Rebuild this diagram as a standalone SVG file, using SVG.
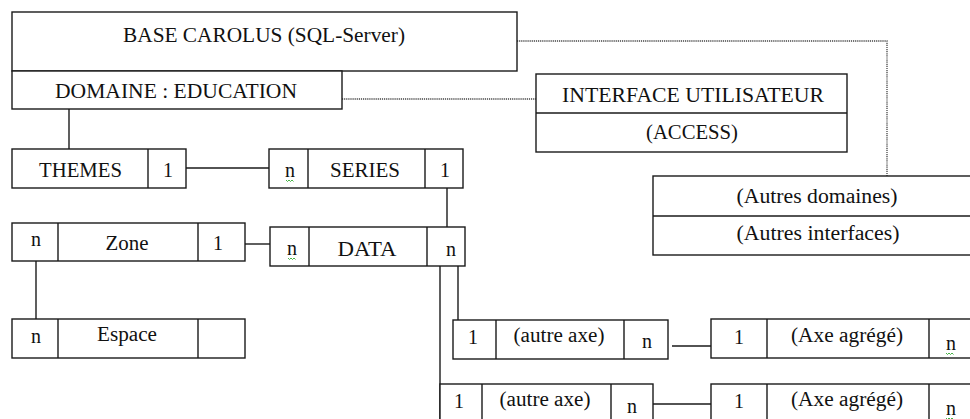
<svg xmlns="http://www.w3.org/2000/svg" width="970" height="419" viewBox="0 0 970 419">
<style>
.b{fill:#fff;stroke:#1a1a1a;stroke-width:1.4}
.d{stroke:#1a1a1a;stroke-width:1.4;fill:none}
.c{stroke:#1a1a1a;stroke-width:1.4;fill:none}
.dot{stroke:#444;stroke-width:1.3;stroke-dasharray:1.2 0.9;fill:none}
.sq{stroke:#3a3;stroke-width:0.9;fill:none}
text{font-family:"Liberation Serif","Times New Roman",serif;font-size:20px;fill:#111;text-anchor:middle}
</style>
<rect width="970" height="419" fill="#fff"/>
<g id="connectors">
<path class="dot" d="M517 41H887V176"/>
<path class="dot" d="M342 99H536"/>
<path class="c" d="M69 109V149"/>
<path class="c" d="M186 168H269"/>
<path class="c" d="M447 188V227"/>
<path class="c" d="M245 244H270"/>
<path class="c" d="M36 261V319"/>
<path class="c" d="M458 266V320"/>
<path class="c" d="M440 266V419"/>
<path class="c" d="M672 346H711"/>
<path class="c" d="M653 404H711"/>
</g>
<g id="base">
<rect class="b" x="12" y="12" width="505" height="59"/>
<text x="264" y="42" textLength="282" lengthAdjust="spacingAndGlyphs">BASE CAROLUS (SQL-Server)</text>
</g>
<g id="domaine">
<rect class="b" x="12" y="71" width="330" height="38"/>
<text x="176" y="98" textLength="242" lengthAdjust="spacingAndGlyphs">DOMAINE : EDUCATION</text>
</g>
<g id="interface">
<rect class="b" x="536" y="74" width="311" height="78"/>
<path class="d" d="M536 113H847"/>
<text x="693" y="102" textLength="262" lengthAdjust="spacingAndGlyphs">INTERFACE UTILISATEUR</text>
<text x="692" y="139" textLength="92" lengthAdjust="spacingAndGlyphs">(ACCESS)</text>
</g>
<g id="autres">
<rect class="b" x="653" y="176" width="330" height="79"/>
<path class="d" d="M653 216H983"/>
<text x="817" y="203" textLength="161" lengthAdjust="spacingAndGlyphs">(Autres domaines)</text>
<text x="818" y="240" textLength="163" lengthAdjust="spacingAndGlyphs">(Autres interfaces)</text>
</g>
<g id="themes">
<rect class="b" x="12" y="149" width="174" height="39"/>
<path class="d" d="M148 149V188"/>
<text x="80.5" y="177" textLength="83" lengthAdjust="spacingAndGlyphs">THEMES</text>
<text x="168" y="177">1</text>
</g>
<g id="series">
<rect class="b" x="269" y="149" width="194" height="39"/>
<path class="d" d="M308 149V188M425 149V188"/>
<text x="290" y="177">n</text>
<path class="sq" d="M286 180l1.5 1.5 1.5-1.5 1.5 1.5 1.5-1.5 1.5 1.5"/>
<text x="365" y="177" textLength="70" lengthAdjust="spacingAndGlyphs">SERIES</text>
<text x="445" y="177">1</text>
</g>
<g id="zone">
<rect class="b" x="12" y="223" width="233" height="38"/>
<path class="d" d="M58 223V261M198 223V261"/>
<text x="36" y="246">n</text>
<text x="127" y="250" textLength="43" lengthAdjust="spacingAndGlyphs">Zone</text>
<text x="218" y="250">1</text>
</g>
<g id="data">
<rect class="b" x="270" y="227" width="195" height="39"/>
<path class="d" d="M309 227V266M427 227V266"/>
<text x="292" y="255">n</text>
<path class="sq" d="M288 258l1.5 1.5 1.5-1.5 1.5 1.5 1.5-1.5 1.5 1.5"/>
<text x="367" y="256" textLength="59" lengthAdjust="spacingAndGlyphs">DATA</text>
<text x="451" y="256">n</text>
</g>
<g id="espace">
<rect class="b" x="12" y="319" width="233" height="39"/>
<path class="d" d="M58 319V358M198 319V358"/>
<text x="36" y="343">n</text>
<text x="127" y="341" textLength="60" lengthAdjust="spacingAndGlyphs">Espace</text>
</g>
<g id="autre-axe-1">
<rect class="b" x="453" y="320" width="215" height="39"/>
<path class="d" d="M496 320V359M624 320V359"/>
<text x="473" y="344">1</text>
<text x="559" y="342" textLength="91" lengthAdjust="spacingAndGlyphs">(autre axe)</text>
<text x="647" y="348">n</text>
</g>
<g id="autre-axe-2">
<rect class="b" x="440" y="384" width="213" height="45"/>
<path class="d" d="M482 384V429M611 384V429"/>
<text x="459" y="408">1</text>
<text x="545" y="406" textLength="91" lengthAdjust="spacingAndGlyphs">(autre axe)</text>
<text x="632" y="413">n</text>
</g>
<g id="axe-agrege-1">
<rect class="b" x="711" y="319" width="280" height="39"/>
<path class="d" d="M767 319V358M929 319V358"/>
<text x="739" y="344">1</text>
<text x="847" y="342" textLength="112" lengthAdjust="spacingAndGlyphs">(Axe agrégé)</text>
<text x="951" y="350">n</text>
<path class="sq" d="M946 353l1.5 1.5 1.5-1.5 1.5 1.5 1.5-1.5 1.5 1.5"/>
</g>
<g id="axe-agrege-2">
<rect class="b" x="711" y="384" width="280" height="45"/>
<path class="d" d="M767 384V429M929 384V429"/>
<text x="739" y="408">1</text>
<text x="847" y="406" textLength="112" lengthAdjust="spacingAndGlyphs">(Axe agrégé)</text>
<text x="951" y="415">n</text>
<path class="sq" d="M946 418l1.5 1.5 1.5-1.5 1.5 1.5 1.5-1.5 1.5 1.5"/>
</g>
</svg>
